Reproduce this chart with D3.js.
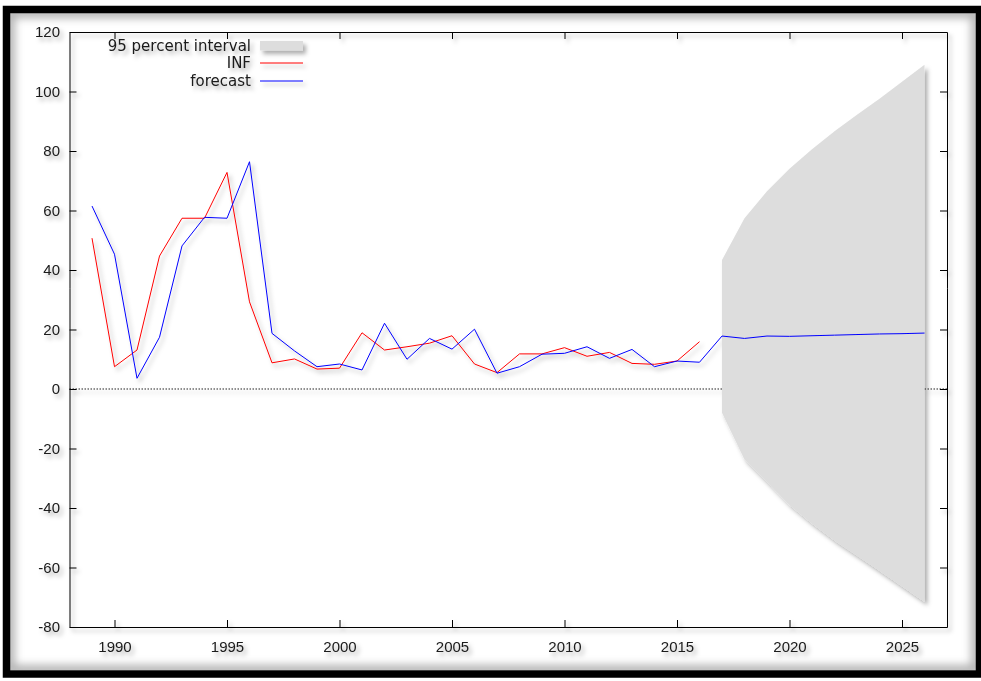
<!DOCTYPE html>
<html>
<head>
<meta charset="UTF-8" />
<title>INF forecast</title>
<script src="https://d3js.org/d3.v7.min.js"></script>
<style>
  body { margin: 0; background: #fff; }
  svg { display: block; font-family: "DejaVu Sans", Verdana, sans-serif; }
  .axis text { font-size: 15px; fill: #1a1a1a; }
  .axis path, .axis line { stroke: #000; }
  .legend text { font-size: 15px; fill: #1a1a1a; }
</style>
</head>
<body>
<svg id="chart"></svg>
<script>
  // ---- data ----
  const years = [1989, 1990, 1991, 1992, 1993, 1994, 1995, 1996, 1997, 1998,
                 1999, 2000, 2001, 2002, 2003, 2004, 2005, 2006, 2007, 2008,
                 2009, 2010, 2011, 2012, 2013, 2014, 2015, 2016, 2017, 2018,
                 2019, 2020, 2021, 2022, 2023, 2024, 2025, 2026];

  // actual INF, 1989-2016
  const infValues = [50.7, 7.5, 13.1, 44.7, 57.4, 57.4, 72.8, 29.3, 8.8, 10.1,
                     6.7, 7.0, 18.9, 13.1, 14.2, 15.4, 17.9, 8.4, 5.5, 11.8,
                     11.8, 13.9, 11.0, 12.3, 8.6, 8.3, 9.4, 15.9];

  // fitted / forecast, 1989-2026
  const forecastValues = [61.5, 45.3, 3.6, 17.4, 48.1, 57.7, 57.4, 76.4, 18.7, 12.8,
                          7.5, 8.4, 6.4, 22.1, 10.0, 17.0, 13.4, 20.1, 5.3, 7.5,
                          11.7, 12.0, 14.2, 10.3, 13.3, 7.5, 9.4, 9.0, 17.8, 17.0,
                          17.8, 17.7, 17.9, 18.1, 18.3, 18.5, 18.6, 18.8];

  // 95 percent interval, 2017-2026
  const intervalYears = [2017, 2018, 2019, 2020, 2021, 2022, 2023, 2024, 2025, 2026];
  const intervalUpper = [43.4, 57.4, 66.5, 74.0, 80.6, 86.6, 92.2, 97.6, 103.3, 109.0];
  const intervalLower = [-8.0, -23.7, -31.3, -39.0, -45.2, -50.9, -56.0, -61.1, -66.3, -71.5];

  const xTicks = [1990, 1995, 2000, 2005, 2010, 2015, 2020, 2025];
  const yTicks = [-80, -60, -40, -20, 0, 20, 40, 60, 80, 100, 120];
  const legendLabels = ["95 percent interval", "INF", "forecast"];

  // ---- setup ----
  const W = 981, H = 681;
  const plotL = 69.5, plotR = 947, plotT = 32, plotB = 627;

  const svg = d3.select("#chart").attr("width", W).attr("height", H);
  const defs = svg.append("defs");

  const shadow = defs.append("filter").attr("id", "shadow")
    .attr("filterUnits", "userSpaceOnUse")
    .attr("x", 0).attr("y", 0).attr("width", W).attr("height", H);
  shadow.append("feDropShadow")
    .attr("dx", 3).attr("dy", 3.5).attr("stdDeviation", 2)
    .attr("flood-color", "#000").attr("flood-opacity", 0.32);

  const blur = defs.append("filter").attr("id", "blur")
    .attr("filterUnits", "userSpaceOnUse")
    .attr("x", 0).attr("y", 0).attr("width", W).attr("height", H);
  blur.append("feGaussianBlur").attr("stdDeviation", 4);

  defs.append("clipPath").attr("id", "inner")
    .append("rect").attr("x", 10).attr("y", 13).attr("width", 966).attr("height", 657);

  // frame: black border with a soft inner shadow
  svg.append("g").attr("clip-path", "url(#inner)")
    .append("rect")
    .attr("x", 10).attr("y", 13).attr("width", 966).attr("height", 657)
    .attr("fill", "none").attr("stroke", "#000").attr("stroke-width", 10)
    .attr("stroke-opacity", 0.3).attr("filter", "url(#blur)");

  svg.append("rect")
    .attr("x", 6.5).attr("y", 9.5).attr("width", 973).attr("height", 664.5)
    .attr("fill", "none").attr("stroke", "#000").attr("stroke-width", 7.5);

  const x = d3.scaleLinear().domain([1988, 2027]).range([plotL, plotR]);
  const y = d3.scaleLinear().domain([-80, 120]).range([plotB, plotT]);

  const g = svg.append("g").attr("filter", "url(#shadow)");

  // zero line
  g.append("line")
    .attr("x1", plotL).attr("x2", plotR)
    .attr("y1", y(0)).attr("y2", y(0))
    .attr("stroke", "#222").attr("stroke-width", 1)
    .attr("stroke-dasharray", "1.5,1.5");

  // interval band
  const band = intervalYears.map((yr, i) => ({ yr, hi: intervalUpper[i], lo: intervalLower[i] }));
  g.append("path")
    .datum(band)
    .attr("fill", "#dddddd")
    .attr("d", d3.area()
      .x(d => x(d.yr))
      .y0(d => y(d.lo))
      .y1(d => y(d.hi)));

  // lines
  const line = d3.line().x(d => x(d[0])).y(d => y(d[1]));
  const infData = infValues.map((v, i) => [years[i], v]);
  const fcData = forecastValues.map((v, i) => [years[i], v]);

  g.append("path").datum(infData)
    .attr("fill", "none").attr("stroke", "#ff0000").attr("stroke-width", 1)
    .attr("d", line);
  g.append("path").datum(fcData)
    .attr("fill", "none").attr("stroke", "#0000ff").attr("stroke-width", 1)
    .attr("d", line);

  // axes, ticks inward on all four sides
  const fmt = d => String(d);
  g.append("g").attr("class", "axis")
    .attr("transform", `translate(0,${plotB})`)
    .call(d3.axisBottom(x).tickValues(xTicks).tickFormat(fmt)
      .tickSizeInner(-7).tickSizeOuter(0).tickPadding(14));
  g.append("g").attr("class", "axis")
    .attr("transform", `translate(0,${plotT})`)
    .call(d3.axisTop(x).tickValues(xTicks).tickFormat("")
      .tickSizeInner(-7).tickSizeOuter(0));
  g.append("g").attr("class", "axis")
    .attr("transform", `translate(${plotL},0)`)
    .call(d3.axisLeft(y).tickValues(yTicks).tickFormat(fmt)
      .tickSizeInner(-7).tickSizeOuter(0).tickPadding(9.5));
  g.append("g").attr("class", "axis")
    .attr("transform", `translate(${plotR},0)`)
    .call(d3.axisRight(y).tickValues(yTicks).tickFormat("")
      .tickSizeInner(-7).tickSizeOuter(0));

  g.selectAll(".axis text").attr("fill", "#1a1a1a");

  // legend
  const legend = g.append("g").attr("class", "legend");
  const rowY = [46, 63, 81];
  legendLabels.forEach((lab, i) => {
    legend.append("text")
      .attr("x", 251).attr("y", rowY[i]).attr("dy", "0.35em")
      .attr("text-anchor", "end").text(lab);
  });
  legend.append("rect")
    .attr("x", 260).attr("y", rowY[0] - 5).attr("width", 43).attr("height", 9.5)
    .attr("fill", "#dddddd");
  legend.append("path")
    .attr("d", `M260,${rowY[1]}H303`)
    .attr("fill", "none").attr("stroke", "#ff0000").attr("stroke-width", 1.2);
  legend.append("path")
    .attr("d", `M260,${rowY[2]}H303`)
    .attr("fill", "none").attr("stroke", "#0000ff").attr("stroke-width", 1.2);
</script>
</body>
</html>
